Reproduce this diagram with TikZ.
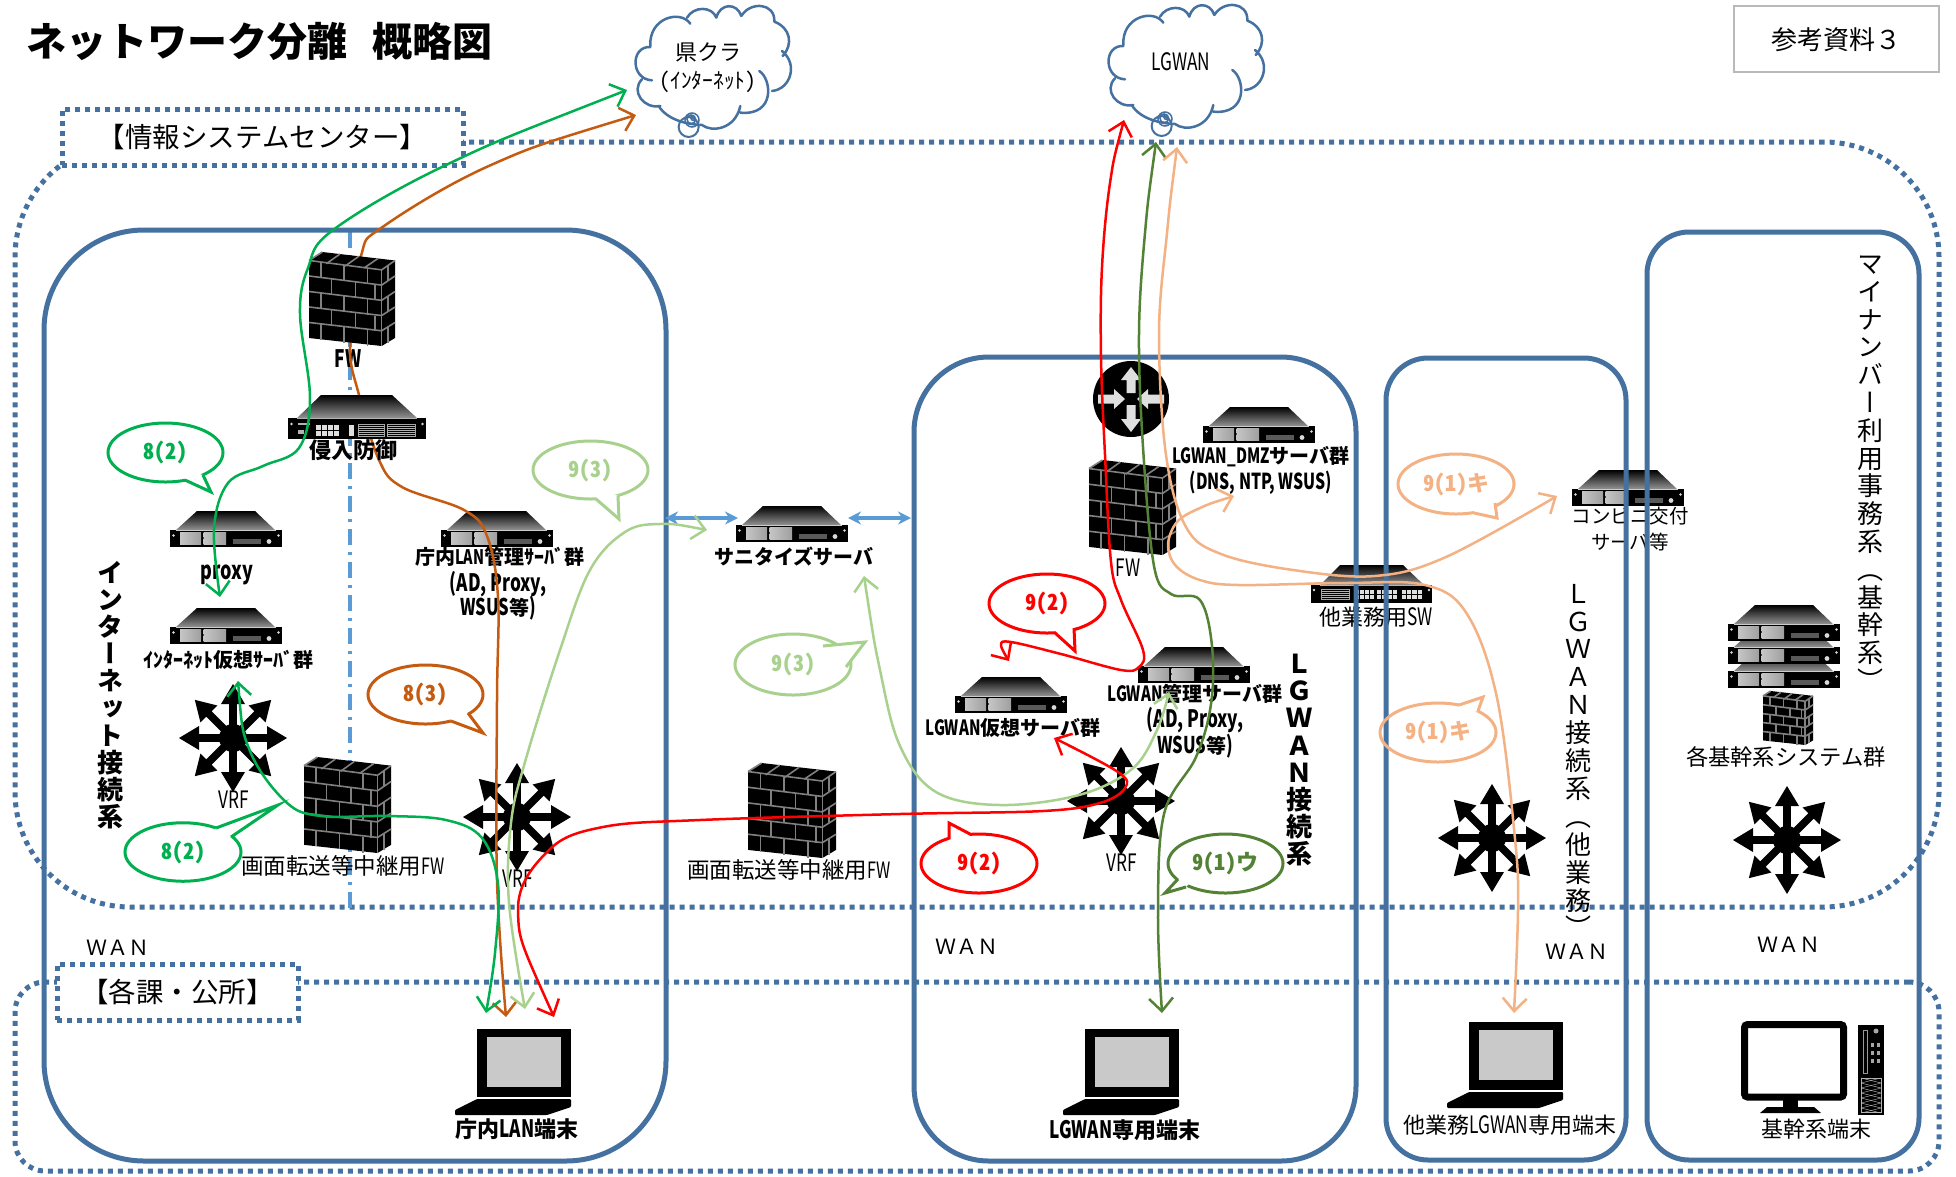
\documentclass[tikz,border=0pt]{standalone}
\usepackage{fontspec}
\usetikzlibrary{arrows.meta,calc,shapes.geometric}
\setmainfont[RawFeature={+hwid}]{Noto Sans CJK JP}
\newfontfamily\jpv[RawFeature={+vert}]{Noto Sans CJK JP}
\newfontfamily\jpf{Noto Sans CJK JP}
\newfontfamily\nl[FakeStretch=.72]{Noto Sans CJK JP}
\newcommand\pxf[1]{\fontsize{#1}{#1}\selectfont}
\definecolor{panelblue}{HTML}{44719F}
\definecolor{dashblue}{HTML}{5B9BD5}
\definecolor{cgreen}{HTML}{00B050}
\definecolor{cbrown}{HTML}{C55A11}
\definecolor{clight}{HTML}{A9D18E}
\definecolor{cred}{HTML}{FF0000}
\definecolor{cdark}{HTML}{548235}
\definecolor{cpeach}{HTML}{F4B183}
\definecolor{brick}{HTML}{808080}
\tikzset{
  dotbox/.style={draw=panelblue,line width=5pt,dash pattern=on 5pt off 5pt,inner sep=0pt,outer sep=0pt},
  panel/.style={draw=panelblue,line width=5pt,inner sep=0pt,outer sep=0pt},
  lbl/.style={inner sep=0pt,outer sep=0pt,text=black},
  bubble/.style={ellipse,line width=3pt,inner sep=0pt,outer sep=0pt},
  route/.style={line width=2.5pt,line cap=round,line join=round,
     {Straight Barb[length=13pt,width=24pt]}-{Straight Barb[length=13pt,width=24pt]}},
  srv/.pic={
    \shade[top color=black,bottom color=gray!85] (6,19) -- (27,0) -- (85,0) -- (105,19) -- cycle;
    \fill[black] (0,19) rectangle (112,36);
    \fill[gray!40] (6,19) rectangle (106,20);
    \foreach \yy in {21,27.5} {
      \shade[left color=gray!45,right color=gray!75] (10,\yy) rectangle (31,\yy+5.5);
      \shade[left color=gray!45,right color=gray!75] (33.5,\yy) rectangle (56,\yy+5.5);
    }
    \fill[gray!70!black] (62.5,28) rectangle (91,33);
    \fill[gray!30] (99,30.5) circle (2.4);
    \fill[gray!30] (3.5,24.5) circle (1.3) (108.5,24.5) circle (1.3);
  },
  ipsbox/.pic={
    \shade[top color=black,bottom color=gray!85] (9,23) -- (33,0) -- (104,0) -- (129,23) -- cycle;
    \fill[black] (0,23) rectangle (138,44);
    \fill[gray!60] (9,23) rectangle (129,24);
    \fill[gray!30] (3.5,29) circle (1.4) (134.5,29) circle (1.4);
    \fill[gray!60] (10,28) rectangle (22,30);
    \fill[gray!60] (10,35) rectangle (16,39);
    \foreach \xx in {28,34,40,46} \foreach \yy in {30,36} {\fill[gray!25] (\xx,\yy) rectangle (\xx+5,\yy+4.5);}
    \fill[gray!25] (61,30) rectangle (66,40.5);
    \foreach \xa/\xb in {70/96,99/127} {
      \draw[gray!70,line width=.5pt] (\xa,29) rectangle (\xb,41);
      \foreach \yy in {31,33,...,39} {\draw[gray!60,line width=.4pt] (\xa,\yy) -- (\xb,\yy);}
    }
  },
  swbox/.pic={
    \shade[top color=black,bottom color=gray!85] (9,20) -- (29,0) -- (92,0) -- (113,20) -- cycle;
    \fill[black] (0,20) rectangle (121,38);
    \fill[gray!60] (9,20) rectangle (113,21);
    \fill[gray!30] (3,25) circle (1.3) (118,25) circle (1.3);
    \draw[gray!70,line width=.5pt] (10.7,24) rectangle (38.5,34);
    \foreach \yy in {26,28,30,32} {\draw[gray!60,line width=.4pt] (10.7,\yy) -- (38.5,\yy);}
    \foreach \xa in {43.6,66,91} \foreach \dx in {0,5.2,10.4,15.6} \foreach \yy in {24.5,29.5} {
      \fill[gray!25] (\xa+\dx,\yy) rectangle (\xa+\dx+4.2,\yy+4);
    }
  },
  fwall/.pic={
    \fill[black] (0,.09) -- (.155,0) -- (1,.09) -- (1,.915) -- (.845,1) -- (0,.915) -- cycle;
    \begin{scope}[brick,line width=1.6pt]
      \draw (0,.09) -- (.845,.19) -- (1,.09);
      \draw (.845,.19) -- (.845,1);
      \draw (.155,0) -- (0,.09);
      \draw (.36,.022) -- (.2,.125);
      \draw (.58,.045) -- (.42,.15);
      \draw (.8,.07) -- (.64,.17);
      \foreach \k in {1,2,3,4} {
        \draw (0,.09+.165*\k) -- (.845,.19+.162*\k);
        \draw (.845,.19+.162*\k) -- (1,.09+.165*\k);
      }
      \foreach \r in {0,2,4} \foreach \xx in {.14,.41,.68} {
        \pgfmathsetmacro\ya{.09+.165*\r+\xx*.118}
        \pgfmathsetmacro\yb{\ya+.165}
        \draw (\xx,\ya) -- (\xx,\yb);
      }
      \foreach \r in {1,3} \foreach \xx in {.26,.54,.77} {
        \pgfmathsetmacro\ya{.09+.165*\r+\xx*.118}
        \pgfmathsetmacro\yb{\ya+.165}
        \draw (\xx,\ya) -- (\xx,\yb);
      }
      \foreach \r in {0,2,4} {
        \pgfmathsetmacro\ya{.14+.165*\r}
        \draw (.92,\ya) -- (.92,\ya+.165);
      }
    \end{scope}
  },
  star/.pic={
    \foreach \a in {0,45,...,315} {
      \fill[black,rotate=\a] (0,-3.8) -- (34,-3.8) -- (34,-12) -- (54,0) -- (34,12) -- (34,3.8) -- (0,3.8) -- cycle;
    }
    \fill[black] (0,0) circle (14);
  },
  rtrcross/.pic={
    \fill[black] (0,0) circle (38);
    \fill[gray!25] (0,-32) -- (-10,-19) -- (-4.5,-19) -- (-4.5,-6) -- (4.5,-6) -- (4.5,-19) -- (10,-19) -- cycle;
    \fill[gray!25] (0,33) -- (-10,20) -- (-4.5,20) -- (-4.5,6) -- (4.5,6) -- (4.5,20) -- (10,20) -- cycle;
    \fill[gray!25] (-6,0) -- (-17,-10) -- (-17,-4.5) -- (-33,-4.5) -- (-33,4.5) -- (-17,4.5) -- (-17,10) -- cycle;
    \fill[gray!25] (6,0) -- (17,-10) -- (17,-4.5) -- (33,-4.5) -- (33,4.5) -- (17,4.5) -- (17,10) -- cycle;
  },
  laptop/.pic={
    \fill[black] (22,0) rectangle (116,68);
    \fill[gray!42] (32,8) rectangle (106,58);
    \fill[black,rounded corners=1pt] (22,70) -- (116,70) -- (116,78) -- (92,86) -- (0,86) -- (0,81) -- cycle;
  },
  desktop/.pic={
    \draw[black,line width=7pt,rounded corners=3pt,fill=white] (3.5,3.5) rectangle (102.5,76);
    \fill[black] (42,79) rectangle (57,86);
    \fill[black] (26,86) -- (73,86) -- (80,92) -- (19,92) -- cycle;
    \fill[black] (117,4) rectangle (143,94);
    \draw[gray!80,line width=.8pt] (122,9) rectangle (126,52);
    \fill[gray!70] (135,10) circle (2.5);
    \foreach \yy in {22,30,38} {\fill[gray!70] (130,\yy) rectangle (133,\yy+4); \fill[gray!70] (136,\yy) rectangle (139,\yy+4);}
    \draw[gray!60,line width=.8pt] (120,57) rectangle (140,91);
    \foreach \dd in {0,5,...,30} {
      \draw[gray!50,line width=.4pt] (120,57+\dd) -- (140,62+\dd);
      \draw[gray!50,line width=.4pt] (140,57+\dd) -- (120,62+\dd);
    }
  },
  cloudshape/.pic={
    \draw[panelblue,line width=2.5pt,line cap=round]
      (190,135) .. controls (185,50) and (280,25) .. (310,68)
      (300,50) .. controls (320,15) and (375,15) .. (388,50)
      (388,50) .. controls (400,5) and (450,5) .. (463,45)
      (463,45) .. controls (490,0) and (565,5) .. (562,62)
      (562,62) .. controls (610,80) and (620,130) .. (587,165)
      (585,150) .. controls (635,190) and (610,265) .. (555,270)
      (517,210) .. controls (555,235) and (565,345) .. (460,335)
      (460,315) .. controls (445,385) and (375,395) .. (345,372)
      (345,372) .. controls (295,370) and (240,355) .. (215,315)
      (220,315) .. controls (170,325) and (130,270) .. (165,235)
      (195,238) .. controls (130,235) and (130,135) .. (190,138);
    \draw[panelblue,line width=2pt] (305,378) circle (30);
    \draw[panelblue,line width=1.5pt] (315,357) circle (21) (313,355) circle (13) (318,352) circle (6);
  }
}
\newcommand\callout[9]{%
  \node[bubble,draw=#2,minimum width=#4pt,minimum height=#5pt] (#1) at (#3) {};
  \coordinate (#1t) at (#7);
  \coordinate (#1a) at (#8);
  \coordinate (#1b) at (#9);
  \fill[white] (#1a) -- (#1t) -- (#1b) -- ($(#1a)!.5!(#1b)!.3!(#1.center)$) -- cycle;
  \draw[#2,line width=3pt,line join=miter] (#1a) -- (#1t) -- (#1b);
  \node[lbl,text=#2,font=\bfseries\pxf{22}] (#1l) at (#3) {#6};
}
\begin{document}
\begin{tikzpicture}[x=1pt,y=-1pt]
\useasboundingbox (0,0) rectangle (1956,1176);
\fill[white] (0,0) rectangle (1956,1176);

% dotted zones
\node[dotbox,rounded corners=115pt,minimum width=1924pt,minimum height=765pt] (zoneCenter) at (977,524.5) {};
\node[dotbox,rounded corners=30pt,minimum width=1924pt,minimum height=189pt] (zoneOffice) at (977,1076.5) {};
\node[dotbox,fill=white,minimum width=401pt,minimum height=56pt] (boxCenter) at (262.5,137) {};
\node[lbl,font=\pxf{27.5}] (txtCenter) at (262.5,137) {【情報システムセンター】};
\node[dotbox,fill=white,minimum width=241pt,minimum height=56pt] (boxOffice) at (177.5,992) {};
\node[lbl,font=\pxf{27.5}] (txtOffice) at (177.5,992) {【各課・公所】};

% centre divider
\coordinate (divTop) at (350,232);
\coordinate (divBot) at (350,915);
\draw[dashblue,line width=3.2pt,dash pattern=on 16pt off 7pt on 3pt off 7pt] (divTop) -- (divBot);

% title and reference box
\node[lbl,anchor=west,font=\bfseries\pxf{40}] (title) at (27,41) {ネットワーク分離\ \hspace{5pt}概略図};
\node[draw=gray!55,line width=1.5pt,minimum width=205pt,minimum height=66pt,inner sep=0pt] (refBox) at (1836.5,39) {};
\node[lbl,font=\jpf\pxf{26}] (refTxt) at (1836.5,40) {参考資料３};

% clouds
\pic (cloudPref) [shift={(587,1)},scale=.3333] {cloudshape};
\pic (cloudLgwan) [shift={(1060,0)},scale=.3333] {cloudshape};
\node[lbl,font=\pxf{22}] (txtPref) at (708,52) {県クラ};
\node[lbl,font=\pxf{21.5}] (txtPref2) at (708,82) {(ｲﾝﾀｰﾈｯﾄ)};
\node[lbl,font=\nl\pxf{24}] (txtLgwan) at (1181,62) {LGWAN};

% icons
\pic (srvProxy) [shift={(170,511)}] {srv};
\pic (srvInetV) [shift={(170,608)}] {srv};
\pic (srvLan) [shift={(441,511)}] {srv};
\pic (srvSan) [shift={(736,506)}] {srv};
\pic (srvDmz) [shift={(1203,407)}] {srv};
\pic (srvMgmt) [shift={(1138,647)}] {srv};
\pic (srvLgV) [shift={(955,677)}] {srv};
\pic (srvConv) [shift={(1572,470)}] {srv};
\pic (srvCore3) [shift={(1728,652)}] {srv};
\pic (srvCore2) [shift={(1728,628)}] {srv};
\pic (srvCore1) [shift={(1728,605)}] {srv};
\pic (fwRelay1) [shift={(304,757)},xscale=87,yscale=96] {fwall};
\pic (fwRelay2) [shift={(748,763)},xscale=88,yscale=95] {fwall};
\pic (fwLgwan) [shift={(1089,460)},xscale=87,yscale=95] {fwall};
\pic (fwCore) [shift={(1763,691)},xscale=50,yscale=54] {fwall};
\pic (vrf1) [shift={(233,738)}] {star};
\pic (vrf2) [shift={(517,817)}] {star};
\pic (vrf3) [shift={(1121,801)}] {star};
\pic (vrf4) [shift={(1492,838)}] {star};
\pic (vrf5) [shift={(1787,840)}] {star};
\pic (rtrLgwan) [shift={(1131,399)}] {rtrcross};
\pic (swOther) [shift={(1311,565)}] {swbox};
\pic (lapLan) [shift={(455,1029)}] {laptop};
\pic (lapLgwan) [shift={(1063,1029)}] {laptop};
\pic (lapOther) [shift={(1447,1022)}] {laptop};
\pic (pcCore) [shift={(1741,1021)}] {desktop};

% labels
\node[lbl,font=\nl\bfseries\pxf{24}] (lblFw) at (348,359) {FW};
\node[lbl,font=\nl\bfseries\pxf{25}] (lblProxy) at (227,575) {proxy};
\node[lbl,font=\bfseries\pxf{20}] (lblInetV) at (228,660) {ｲﾝﾀｰﾈｯﾄ仮想ｻｰﾊﾞ群};
\node[lbl,font=\bfseries\pxf{20}] (lblLan1) at (500,557) {庁内{\nl LAN}管理ｻｰﾊﾞ群};
\node[lbl,font=\nl\bfseries\pxf{24}] (lblLan2) at (498,584) {(AD, Proxy,};
\node[lbl,font=\bfseries\pxf{20}] (lblLan3) at (498,608) {{\nl\pxf{23}WSUS}等{\nl\pxf{23})}};
\node[lbl,font=\bfseries\pxf{20}] (lblSan) at (794,557) {サニタイズサーバ};
\node[lbl,font=\pxf{22.5}] (lblRelay1) at (343,866) {画面転送等中継用{\nl FW}};
\node[lbl,font=\pxf{22.5}] (lblRelay2) at (789,870) {画面転送等中継用{\nl FW}};
\node[lbl,font=\nl\pxf{24}] (lblVrf1) at (234,800) {VRF};
\node[lbl,font=\nl\pxf{24}] (lblVrf2) at (518,879) {VRF};
\node[lbl,font=\nl\pxf{24}] (lblVrf3) at (1122,863) {VRF};
\node[lbl,font=\bfseries\pxf{22}] (lblLap1) at (517,1129) {庁内{\nl\pxf{24}LAN}端末};
\node[lbl,font=\bfseries\pxf{22}] (lblLap2) at (1125,1130) {{\nl\pxf{24}LGWAN}専用端末};
\node[lbl,font=\pxf{22}] (lblLap3) at (1510,1125) {他業務{\nl\pxf{24}LGWAN}専用端末};
\node[lbl,font=\pxf{22}] (lblPc) at (1816,1129) {基幹系端末};
\node[lbl,font=\bfseries\pxf{20}] (lblDmz1) at (1261,457) {{\nl\pxf{21}LGWAN\_DMZ}サーバ群};
\node[lbl,font=\nl\bfseries\pxf{22}] (lblDmz2) at (1261,483) {(DNS, NTP, WSUS)};
\node[lbl,font=\nl\pxf{24}] (lblFw2) at (1128,568) {FW};
\node[lbl,font=\bfseries\pxf{20}] (lblMg1) at (1195,694) {{\nl\pxf{21}LGWAN}管理サーバ群};
\node[lbl,font=\nl\bfseries\pxf{24}] (lblMg2) at (1195,720) {(AD, Proxy,};
\node[lbl,font=\bfseries\pxf{20}] (lblMg3) at (1195,746) {{\nl\pxf{23}WSUS}等{\nl\pxf{23})}};
\node[lbl,font=\bfseries\pxf{20}] (lblLgV) at (1013,728) {{\nl\pxf{21}LGWAN}仮想サーバ群};
\node[lbl,font=\pxf{22}] (lblSw) at (1376,617) {他業務用{\nl\pxf{24}SW}};
\node[lbl,font=\pxf{19.5}] (lblConv1) at (1630,516) {コンビニ交付};
\node[lbl,font=\pxf{19.5}] (lblConv2) at (1630,542) {サーバ等};
\node[lbl,font=\pxf{22.3}] (lblCore) at (1786,757) {各基幹系システム群};
\node[lbl,font=\jpf\pxf{21}] (wan1) at (118,948) {ＷＡＮ};
\node[lbl,font=\jpf\pxf{21}] (wan2) at (967,947) {ＷＡＮ};
\node[lbl,font=\jpf\pxf{21}] (wan3) at (1577,952) {ＷＡＮ};
\node[lbl,font=\jpf\pxf{21}] (wan4) at (1789,945) {ＷＡＮ};

% vertical labels
\node[lbl,anchor=north,align=center,font=\jpv\bfseries\fontsize{26}{27.2}\selectfont] (vInet) at (110,561)
  {イ\\ン\\タ\\ー\\ネ\\ッ\\ト\\接\\続\\系};
\node[lbl,anchor=north,align=center,font=\jpv\bfseries\fontsize{26}{27.2}\selectfont] (vLg) at (1299,654)
  {Ｌ\\Ｇ\\Ｗ\\Ａ\\Ｎ\\接\\続\\系};
\node[lbl,anchor=north,align=center,font=\jpv\fontsize{26}{27.9}\selectfont] (vOther) at (1578,584)
  {Ｌ\\Ｇ\\Ｗ\\Ａ\\Ｎ\\接\\続\\系\\（\\他\\業\\務\\）};
\node[lbl,anchor=north,align=center,font=\jpv\fontsize{26}{27.8}\selectfont] (vMy) at (1870,256)
  {マ\\イ\\ナ\\ン\\バ\\ー\\利\\用\\事\\務\\系\\（\\基\\幹\\系\\）};

% solid panels
\node[panel,rounded corners=100pt,minimum width=622pt,minimum height=931pt] (panelInet) at (355,695.5) {};
\node[panel,rounded corners=75pt,minimum width=442pt,minimum height=804pt] (panelLgwan) at (1135,759) {};
\node[panel,rounded corners=42pt,minimum width=240pt,minimum height=802pt] (panelOther) at (1506,759) {};
\node[panel,rounded corners=42pt,minimum width=272pt,minimum height=928pt] (panelCore) at (1783,696) {};

% endpoints
\coordinate (pA) at (636,115);
\coordinate (pB) at (506,1017);
\coordinate (gA) at (627,90);
\coordinate (gB) at (220,597);
\coordinate (gC) at (238,681);
\coordinate (gD) at (486,1013);
\coordinate (lA) at (707,530);
\coordinate (lB) at (525,1009);
\coordinate (lC) at (864,576);
\coordinate (lD) at (1169,692);
\coordinate (rA) at (1124,120);
\coordinate (rB) at (1009,661);
\coordinate (rC) at (554,1017);
\coordinate (rD) at (1054,738);
\coordinate (dA) at (1156,142);
\coordinate (dB) at (1162,1013);
\coordinate (oA) at (1177,147);
\coordinate (oB) at (1557,496);
\coordinate (oC) at (1234,496);
\coordinate (oD) at (1514,1013);
\coordinate (sL1) at (665,518);
\coordinate (sL2) at (738,518);
\coordinate (sR1) at (848,518);
\coordinate (sR2) at (911,518);

% brown route runs behind the firewall and IPS
\draw[route,cbrown] plot[smooth,tension=.6] coordinates {(pA) (491,165) (384,226) (361,256) (350,345) (359,395) (379,460) (402,487) (464,510) (487,536) (498,597) (497,700) (497,880) (pB)};
\pic (fwInet) [shift={(309,252)},xscale=86,yscale=94] {fwall};
\pic (ips) [shift={(288,395)}] {ipsbox};
\node[lbl,font=\bfseries\pxf{22}] (lblIps) at (353,450) {侵入防御};

% sanitize links
\draw[dashblue,line width=3.5pt,{Stealth[length=13pt,width=13pt]}-{Stealth[length=13pt,width=13pt]}] (sL1) -- (sL2);
\draw[dashblue,line width=3.5pt,{Stealth[length=13pt,width=13pt]}-{Stealth[length=13pt,width=13pt]}] (sR1) -- (sR2);

% routes
\draw[route,cgreen] plot[smooth,tension=.6] coordinates {(gA) (446,165) (333,230) (308,268) (300,314) (310,398) (299,448) (263,466) (228,483) (214,529) (gB)};
\draw[route,cgreen] plot[smooth,tension=.6] coordinates {(gC) (250,751) (286,802) (321,816) (388,816) (446,820) (482,838) (498,884) (495,953) (gD)};
\draw[route,clight] plot[smooth,tension=.6] coordinates {(lA) (660,524) (625,532) (590,570) (560,650) (525,762) (511,823) (509,903) (lB)};
\draw[route,clight] plot[smooth,tension=.6] coordinates {(lC) (880,670) (900,746) (936,792) (1000,805) (1079,795) (1132,769) (1157,730) (lD)};
\draw[route,cred] plot[smooth,tension=.6] coordinates {(rA) (1110,183) (1102,267) (1101,357) (1105,455) (1111,562) (1121,600) (1143,650) (1139,667) (1121,670) (1061,654) (1011,642) (1001,645) (rB)};
\draw[route,cred] plot[smooth,tension=.6] coordinates {(rC) (518,911) (549,850) (603,827) (700,820) (900,814) (1043,811) (1100,803) (1125,788) (1118,772) (rD)};
\draw[route,cdark] plot[smooth,tension=.6] coordinates {(dA) (1145,233) (1139,333) (1143,447) (1154,566) (1171,594) (1200,600) (1212,646) (1211,704) (1196,757) (1164,814) (1158,914) (dB)};
\draw[route,cpeach] plot[smooth,tension=.6] coordinates {(oA) (1167,233) (1159,333) (1166,455) (1186,527) (1221,554) (1293,570) (1375,576) (1446,557) (oB)};
\draw[route,cpeach] plot[smooth,tension=.6] coordinates {(oC) (1200,508) (1177,522) (1168,545) (1176,566) (1200,580) (1239,585) (1346,583) (1425,585) (1467,614) (1497,698) (1515,839) (1518,909) (oD)};

% callouts
\callout{c82a}{cgreen}{165.5,452.5}{115}{59}{8(2)}{211,492}{185,480}{203,475}
\callout{c93a}{clight}{590.5,470}{115}{58}{9(3)}{619,519}{596,499}{618,496}
\callout{c82b}{cgreen}{183,852}{116}{58.5}{8(2)}{278,805}{216,828}{231,837}
\callout{c83}{cbrown}{425.5,694.5}{115}{59}{8(3)}{483,733}{451,721}{468,713}
\callout{c93b}{clight}{793,664.5}{116}{61}{9(3)}{865,642}{823,646}{846,667}
\callout{c92a}{cred}{1047,603.5}{116}{59}{9(2)}{1075,651}{1054,632}{1074,628}
\callout{c92b}{cred}{979,863.5}{116}{59}{9(2)}{949,823}{949,839}{970,834}
\callout{c91u}{cdark}{1225.5,863.5}{115}{59}{9(1)ウ}{1165,893}{1178,879}{1186,887}
\callout{c91a}{cpeach}{1456,484}{116}{60}{9(1)キ}{1497,518}{1474,513}{1495,503}
\callout{c91b}{cpeach}{1438,732.5}{116}{59}{9(1)キ}{1483,697}{1459,705}{1478,711}
\end{tikzpicture}
\end{document}
